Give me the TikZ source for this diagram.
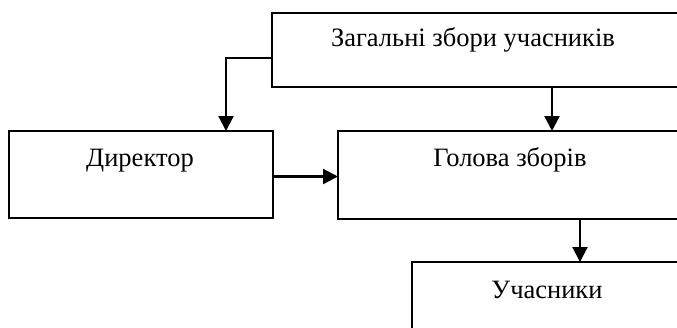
\documentclass[tikz,border=0pt]{standalone}
\usepackage{fontspec}
\setmainfont{Liberation Serif}
\usetikzlibrary{arrows.meta}
\usetikzlibrary{positioning}

\begin{document}
\begin{tikzpicture}[x=1pt,y=-1pt]
\tikzset{
    orgBox/.style={
                   draw,
                   line width=1.7pt,
                   anchor=north west,
                   inner sep=0pt,
                   outer sep=0pt
    },
    orgText/.style={
                   anchor=base,
                   font=\fontsize{26.5}{31}\selectfont
    }
}
    \useasboundingbox (0,0) rectangle (677,327);
    \clip (0,0) rectangle (677,327);

    \node (zbory)[orgBox, minimum width=430pt, minimum height=74pt] at (272,13) {};
    \node (dir)[orgBox, minimum width=264pt, minimum height=87pt] at (9,131) {};
    \node (hol)[orgBox, minimum width=364pt, minimum height=88pt] at (338,131) {};
    \node (uch)[orgBox, minimum width=290pt, minimum height=80pt] at (412,262) {};

    \node (zboryText)[orgText] at (473,46) {Загальні збори учасників};
    \node (dirText)[orgText] at (140,166) {Директор};
    \node (holText)[orgText] at (510,166) {Голова зборів};
    \node (uchText)[orgText] at (547,298) {Учасники};

    \draw[-{Triangle[length=15pt,width=15pt]}, line width=2.2pt] ([yshift=-8pt]zbory.west) -| ([xshift=85pt]dir.north);
    \draw[-{Triangle[length=15pt,width=15pt]}, line width=2.2pt] ([xshift=65pt]zbory.south) -- ([xshift=65pt]zbory.south |- hol.north);
    \draw[-{Triangle[length=15pt,width=15pt]}, line width=2.2pt] ([yshift=-2pt]dir.east) -- ([yshift=-2pt]dir.east -| hol.west);
    \draw[-{Triangle[length=15pt,width=15pt]}, line width=2.2pt] ([xshift=60pt]hol.south) -- ([xshift=60pt]hol.south |- uch.north);

\end{tikzpicture}
\end{document}
